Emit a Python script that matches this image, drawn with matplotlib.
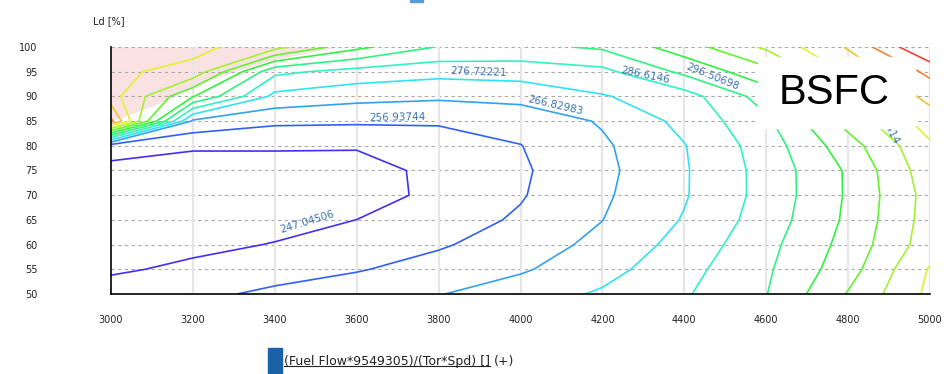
import numpy as np
import matplotlib
matplotlib.use("Agg")
import matplotlib.pyplot as plt
import matplotlib.colors as mcolors
from matplotlib.lines import Line2D

# engine map grid: speed [rpm] x load [%]
speed = [3000, 3200, 3400, 3600, 3800, 4000, 4200, 4400, 4600, 4800, 5000]
load = [50, 55, 60, 65, 70, 75, 80, 85, 90, 95, 100]

# BSFC values, one row per load step (50 -> 100)
bsfc = [
    [252.0, 254.5, 259.0, 262.5, 266.4, 271.9, 278.0, 285.6, 296.2, 317.0, 338.5],
    [245.5, 249.2, 252.7, 256.2, 260.8, 265.6, 273.2, 283.3, 295.0, 312.1, 337.0],
    [243.0, 244.5, 247.5, 251.6, 255.8, 261.8, 269.5, 280.2, 293.5, 309.8, 331.5],
    [241.5, 242.5, 243.5, 247.1, 252.4, 258.2, 266.7, 277.4, 291.2, 308.2, 330.5],
    [243.0, 241.0, 240.5, 242.5, 249.6, 256.2, 265.3, 275.9, 290.0, 307.6, 330.0],
    [244.5, 243.5, 243.5, 244.5, 248.7, 255.6, 264.4, 275.8, 290.1, 307.7, 332.0],
    [251.0, 248.0, 248.0, 247.6, 252.5, 256.7, 265.3, 276.3, 291.4, 312.0, 334.5],
    [358.0, 265.0, 259.0, 258.5, 258.0, 260.5, 267.8, 279.5, 294.5, 320.0, 341.0],
    [340.0, 307.0, 274.0, 270.0, 268.5, 270.0, 276.0, 282.3, 301.0, 330.0, 349.0],
    [338.0, 333.0, 289.0, 283.0, 280.0, 281.0, 284.0, 298.8, 313.0, 338.0, 358.5],
    [342.0, 339.0, 330.0, 309.0, 296.0, 294.0, 298.0, 311.5, 328.0, 347.0, 377.0],
]

levels = [247.04506, 256.93744, 266.82983, 276.72221, 286.6146, 296.50698,
          306.39937, 316.29175, 326.18414, 336.07652, 345.96891, 355.86129,
          365.75368]

# extrapolated area above the full load curve
limit_speed = [3000, 3100, 3200, 3300, 3400, 3550]
limit_load = [85, 88, 92, 95, 97.5, 100]

# labelled contours: level index, speed, load, angle
label_idx = [0, 1, 2, 3, 4, 5, 8]
label_speed = [3480, 3700, 4085, 3898, 4305, 4468, 4885]
label_load = [64.6, 85.8, 88.1, 94.9, 94.3, 93.9, 85.5]
label_rot = [17, 1, -13, -2, -12, -22, -62]

X, Y = np.meshgrid(speed, load)
Z = np.array(bsfc)

hues = np.linspace(245, 5, len(levels)) / 360.0
line_colors = [mcolors.hsv_to_rgb((h, 0.8, 0.95)) for h in hues]

fig = plt.figure(figsize=(9.45, 3.74), dpi=100)
ax = fig.add_axes([111 / 945, 1 - 294 / 374, 819 / 945, 247 / 374])

ax.fill_between(limit_speed, limit_load, 100, color="#fae2e2", lw=0, zorder=0)

ax.contour(X, Y, Z, levels=levels, colors=line_colors, linewidths=1.2, zorder=2)

for i, sx, ly, r in zip(label_idx, label_speed, label_load, label_rot):
    ax.text(sx, ly, "%.8g" % levels[i], fontsize=7.5, color="#3a72b0",
            rotation=r, ha="center", va="center", zorder=3)

ax.set_xlim(3000, 5000)
ax.set_ylim(50, 100)
ax.set_xticks(speed)
ax.set_yticks(load)
for v in load:
    ax.axhline(v, color="#a8a8a8", lw=0.8, ls=(0, (3, 3)), zorder=1)
for v in speed[1:]:
    ax.axvline(v, color="#e6e6e6", lw=1.6, zorder=1)

for side in ["top", "right"]:
    ax.spines[side].set_visible(False)
ax.spines["left"].set_linewidth(1.2)
ax.spines["bottom"].set_linewidth(1.2)
ax.tick_params(axis="y", length=0, pad=53, labelsize=7, labelcolor="#222222")
ax.tick_params(axis="x", length=0, pad=15, labelsize=7, labelcolor="#222222")

fig.text(93 / 945, 1 - 21 / 374, "Ld [%]", fontsize=7, color="#222222",
         va="center", ha="left")

# small marker cut off at the top edge
fig.patches.append(plt.Rectangle((410 / 945, 1 - 2 / 374), 13 / 945, 2 / 374,
                                 transform=fig.transFigure, color="#5b9bd5", zorder=5))

# title box over the upper right corner
fig.patches.append(plt.Rectangle((758 / 945, 1 - 128 / 374), 157 / 945, 71 / 374,
                                 transform=fig.transFigure, color="white", zorder=5))
fig.text(834 / 945, 1 - 93 / 374, "BSFC", fontsize=30, family="Liberation Sans",
         ha="center", va="center", zorder=6)

# legend entry at the bottom
fig.patches.append(plt.Rectangle((268 / 945, 0), 14 / 945, 26 / 374,
                                 transform=fig.transFigure, color="#1a62a8", zorder=5))
t1 = fig.text(284 / 945, 1 - 361 / 374, "(Fuel Flow*9549305)/(Tor*Spd) []",
              fontsize=9, color="#222222", va="center", ha="left")
fig.canvas.draw()
bb = t1.get_window_extent()
inv = fig.transFigure.inverted()
(x0, y0), (x1, _) = inv.transform([(bb.x0, bb.y0), (bb.x1, bb.y0)])
fig.lines.append(Line2D([x0, x1], [y0 + 0.003, y0 + 0.003], color="#222222",
                        lw=0.8, transform=fig.transFigure))
fig.text(x1 + 4 / 945, 1 - 361 / 374, "(+)", fontsize=9, color="#222222",
         va="center", ha="left")

fig.savefig("out.png", dpi=100)
